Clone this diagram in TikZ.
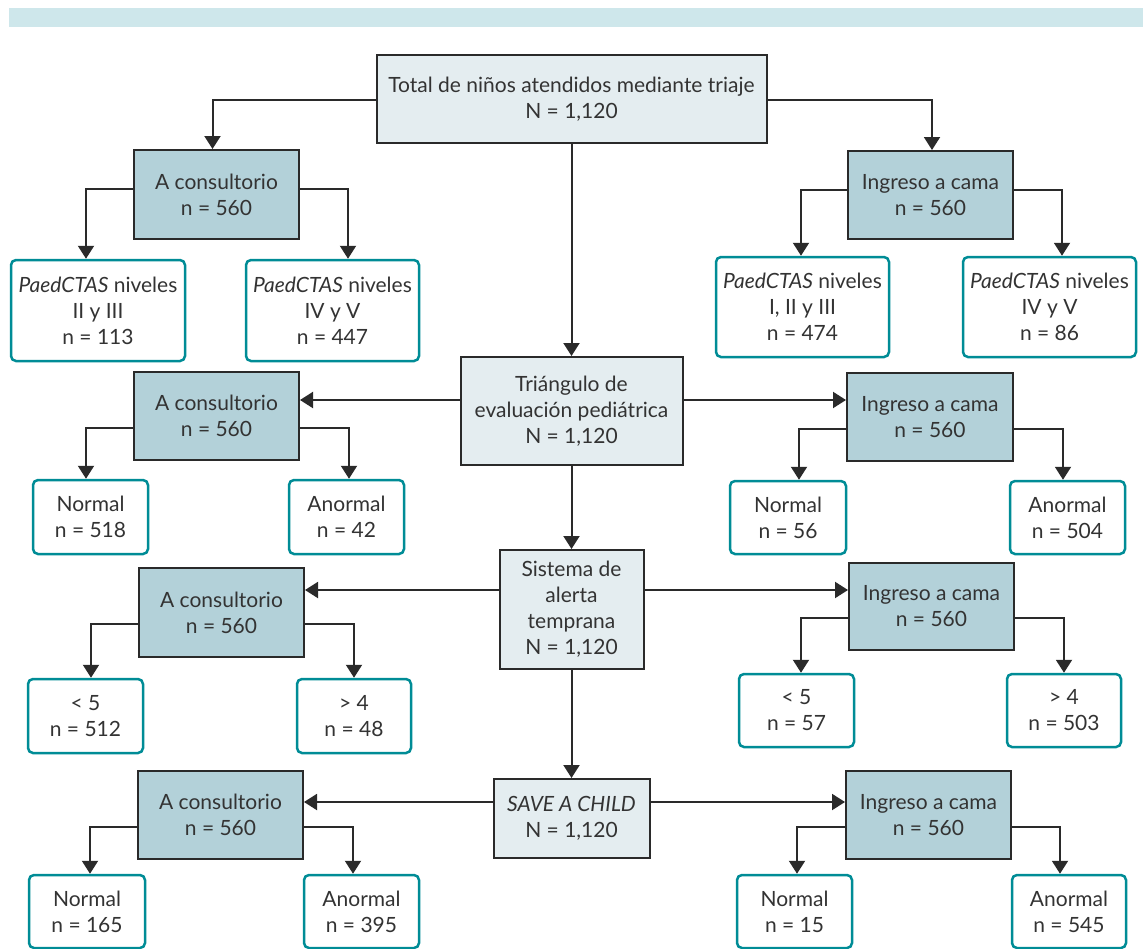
\documentclass[tikz,border=0pt]{standalone}
\usepackage{fontspec}
\setmainfont{Lato}
\usetikzlibrary{arrows.meta}
\definecolor{darkfill}{HTML}{B3D1D9}
\definecolor{lightfill}{HTML}{E4EDF0}
\definecolor{teal}{HTML}{008C96}
\definecolor{band}{HTML}{CEE7EB}
\definecolor{ink}{HTML}{2A2A2A}
\definecolor{txt}{HTML}{333333}
\begin{document}
\begin{tikzpicture}[x=1pt,y=-1pt,
  base/.style={inner sep=0pt, align=center, text=txt, font=\fontsize{21}{26}\selectfont},
  mainbox/.style={base, draw=ink, line width=2pt, fill=lightfill},
  groupbox/.style={base, draw=ink, line width=2pt, fill=darkfill},
  leafbox/.style={base, draw=teal, line width=2.5pt, fill=white, rounded corners=5pt},
  arr/.style={draw=ink, line width=2pt, -{Triangle[width=16pt,length=13pt]}}
]
\useasboundingbox (0,0) rectangle (1143,948);
\fill[band] (9,8) rectangle (1143,27);

% centre column
\node[mainbox, minimum width=390pt, minimum height=88pt] (tot) at (571.5,99) {Total de niños atendidos mediante triaje\\N = 1,120};
\node[mainbox, minimum width=222pt, minimum height=108pt] (tri) at (571.5,411) {Triángulo de\\evaluación pediátrica\\N = 1,120};
\node[mainbox, minimum width=144pt, minimum height=119pt] (sis) at (571.5,609.5) {Sistema de\\alerta\\temprana\\N = 1,120};
\node[mainbox, minimum width=156pt, minimum height=79pt] (sav) at (571.5,818.5) {\textit{SAVE A CHILD}\\N = 1,120};

% group boxes
\node[groupbox, minimum width=165pt, minimum height=89pt] (c1) at (216.5,194.5) {A consultorio\\n = 560};
\node[groupbox, minimum width=165pt, minimum height=88pt] (i1) at (930.5,195) {Ingreso a cama\\n = 560};
\node[groupbox, minimum width=165pt, minimum height=88pt] (c2) at (216.5,416) {A consultorio\\n = 560};
\node[groupbox, minimum width=166pt, minimum height=88pt] (i2) at (930,417) {Ingreso a cama\\n = 560};
\node[groupbox, minimum width=165pt, minimum height=89pt] (c3) at (221.5,612.5) {A consultorio\\n = 560};
\node[groupbox, minimum width=165pt, minimum height=87pt] (i3) at (931.5,606.5) {Ingreso a cama\\n = 560};
\node[groupbox, minimum width=165pt, minimum height=88pt] (c4) at (220.5,815) {A consultorio\\n = 560};
\node[groupbox, minimum width=165pt, minimum height=88pt] (i4) at (928.5,815) {Ingreso a cama\\n = 560};

% leaves
\node[leafbox, minimum width=174pt, minimum height=101pt] (l1) at (98,310.5) {\textit{PaedCTAS} niveles\\II y III\\n = 113};
\node[leafbox, minimum width=173pt, minimum height=101pt] (l2) at (332.5,310.5) {\textit{PaedCTAS} niveles\\IV y V\\n = 447};
\node[leafbox, minimum width=173pt, minimum height=100pt] (l3) at (802.5,307) {\textit{PaedCTAS} niveles\\I, II y III\\n = 474};
\node[leafbox, minimum width=173pt, minimum height=100pt] (l4) at (1049.5,307) {\textit{PaedCTAS} niveles\\IV y V\\n = 86};

\node[leafbox, minimum width=115pt, minimum height=74pt] (n2l) at (90.5,517) {Normal\\n = 518};
\node[leafbox, minimum width=115pt, minimum height=74pt] (a2l) at (346.5,517) {Anormal\\n = 42};
\node[leafbox, minimum width=116pt, minimum height=73pt] (n2r) at (788,517.5) {Normal\\n = 56};
\node[leafbox, minimum width=115pt, minimum height=73pt] (a2r) at (1067.5,517.5) {Anormal\\n = 504};

\node[leafbox, minimum width=115pt, minimum height=74pt] (n3l) at (85.5,716) {< 5\\n = 512};
\node[leafbox, minimum width=114pt, minimum height=74pt] (a3l) at (354,716) {> 4\\n = 48};
\node[leafbox, minimum width=115pt, minimum height=73pt] (n3r) at (796.5,710.5) {< 5\\n = 57};
\node[leafbox, minimum width=114pt, minimum height=73pt] (a3r) at (1064,710.5) {> 4\\n = 503};

\node[leafbox, minimum width=116pt, minimum height=73pt] (n4l) at (87,911.5) {Normal\\n = 165};
\node[leafbox, minimum width=115pt, minimum height=73pt] (a4l) at (361.5,911.5) {Anormal\\n = 395};
\node[leafbox, minimum width=115pt, minimum height=73pt] (n4r) at (794.5,911.5) {Normal\\n = 15};
\node[leafbox, minimum width=114pt, minimum height=73pt] (a4r) at (1069,911.5) {Anormal\\n = 545};

% connectors: centre column
\draw[arr] (tot.south) -- (tri.north);
\draw[arr] (tri.south) -- (sis.north);
\draw[arr] (sis.south) -- (sav.north);

% row 1
\draw[arr] (tot.west |- 0,100) -| ([xshift=-4pt]c1.north);
\draw[arr] (tot.east |- 0,100) -| ([xshift=1.5pt]i1.north);
\draw[arr] (c1.west |- 0,189) -| ([xshift=-12pt]l1.north);
\draw[arr] (c1.east |- 0,189) -| ([xshift=15.5pt]l2.north);
\draw[arr] (i1.west |- 0,190) -| ([xshift=-1.5pt]l3.north);
\draw[arr] (i1.east |- 0,190) -| ([xshift=12.5pt]l4.north);

% row 2
\draw[arr] (tri.west |- 0,400) -- (c2.east |- 0,400);
\draw[arr] (tri.east |- 0,400) -- (i2.west |- 0,400);
\draw[arr] (c2.west |- 0,428) -| ([xshift=-4.5pt]n2l.north);
\draw[arr] (c2.east |- 0,428) -| ([xshift=2.5pt]a2l.north);
\draw[arr] (i2.west |- 0,429) -| ([xshift=11pt]n2r.north);
\draw[arr] (i2.east |- 0,429) -| ([xshift=-4.5pt]a2r.north);

% row 3
\draw[arr] (sis.west |- 0,590) -- (c3.east |- 0,590);
\draw[arr] (sis.east |- 0,590) -- (i3.west |- 0,590);
\draw[arr] (c3.west |- 0,624) -| ([xshift=5.5pt]n3l.north);
\draw[arr] (c3.east |- 0,624) -| (a3l.north);
\draw[arr] (i3.west |- 0,618) -| ([xshift=4.5pt]n3r.north);
\draw[arr] (i3.east |- 0,618) -| (a3r.north);

% row 4
\draw[arr] (sav.west |- 0,802) -- (c4.east |- 0,802);
\draw[arr] (sav.east |- 0,802) -- (i4.west |- 0,802);
\draw[arr] (c4.west |- 0,827) -| ([xshift=3pt]n4l.north);
\draw[arr] (c4.east |- 0,827) -| ([xshift=-8.5pt]a4l.north);
\draw[arr] (i4.west |- 0,827) -| ([xshift=2.5pt]n4r.north);
\draw[arr] (i4.east |- 0,827) -| ([xshift=-9pt]a4r.north);
\end{tikzpicture}
\end{document}
